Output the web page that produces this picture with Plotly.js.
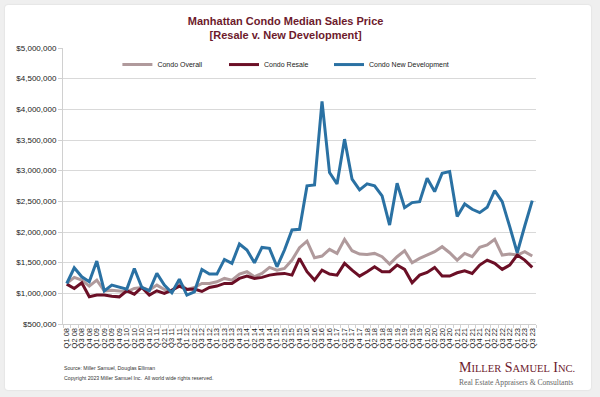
<!DOCTYPE html>
<html>
<head>
<meta charset="utf-8">
<script src="https://cdn.plot.ly/plotly-3.0.1.min.js"></script>
<style>
  html, body { margin: 0; padding: 0; background: #efefef; }
  #card { position: absolute; left: 5px; top: 5px; width: 586px; height: 385px; background: #ffffff; border-radius: 3px; box-shadow: 0 0 2px rgba(0,0,0,0.12); }
  #chart { position: absolute; left: 0; top: 0; width: 600px; height: 397px; }
</style>
</head>
<body>
<div id="card"></div>
<div id="chart"></div>
<script>
const quarters = [
  "Q1 08","Q2 08","Q3 08","Q4 08","Q1 09","Q2 09","Q3 09","Q4 09",
  "Q1 10","Q2 10","Q3 10","Q4 10","Q1 11","Q2 11","Q3 11","Q4 11",
  "Q1 12","Q2 12","Q3 12","Q4 12","Q1 13","Q2 13","Q3 13","Q4 13",
  "Q1 14","Q2 14","Q3 14","Q4 14","Q1 15","Q2 15","Q3 15","Q4 15",
  "Q1 16","Q2 16","Q3 16","Q4 16","Q1 17","Q2 17","Q3 17","Q4 17",
  "Q1 18","Q2 18","Q3 18","Q4 18","Q1 19","Q2 19","Q3 19","Q4 19",
  "Q1 20","Q2 20","Q3 20","Q4 20","Q1 21","Q2 21","Q3 21","Q4 21",
  "Q1 22","Q2 22","Q3 22","Q4 22","Q1 23","Q2 23","Q3 23"
];

const condoOverall = [
  1162000,1260000,1216000,1118000,1216000,1041000,1052000,1041000,
  1025000,1080000,1096000,1052000,1134000,1063000,1025000,1162000,
  1063000,1096000,1162000,1162000,1188000,1243000,1216000,1314000,
  1352000,1270000,1325000,1423000,1379000,1406000,1542000,1745000,
  1850000,1580000,1608000,1717000,1651000,1880000,1695000,1641000,
  1635000,1651000,1597000,1477000,1597000,1695000,1499000,1570000,
  1625000,1679000,1760000,1662000,1542000,1651000,1597000,1749000,
  1788000,1880000,1624000,1641000,1624000,1679000,1608000
];

const condoResale = [
  1150000,1080000,1172000,943000,971000,971000,954000,943000,
  1041000,987000,1096000,971000,1041000,998000,1052000,1118000,
  1063000,1070000,1030000,1096000,1118000,1162000,1162000,1243000,
  1281000,1243000,1260000,1297000,1314000,1325000,1297000,1570000,
  1352000,1216000,1379000,1314000,1297000,1488000,1379000,1281000,
  1352000,1433000,1352000,1352000,1461000,1390000,1172000,1297000,
  1340000,1423000,1281000,1281000,1335000,1368000,1325000,1461000,
  1542000,1488000,1390000,1461000,1624000,1542000,1423000
];

const condoNewDev = [
  1160000,1417000,1270000,1188000,1526000,1041000,1134000,1096000,
  1069000,1406000,1096000,1041000,1325000,1134000,1008000,1232000,
  971000,1025000,1390000,1314000,1314000,1553000,1488000,1804000,
  1706000,1499000,1749000,1733000,1433000,1706000,2033000,2044000,
  2752000,2768000,4129000,2969000,2784000,3514000,2861000,2686000,
  2784000,2752000,2588000,2114000,2795000,2397000,2479000,2495000,
  2877000,2659000,2959000,2986000,2251000,2458000,2371000,2316000,
  2403000,2675000,2495000,2087000,1662000,2098000,2512000
];

const seriesNames = ["Condo Overall", "Condo Resale", "Condo New Development"];

const FONT = "Liberation Sans, Arial, sans-serif";
const SERIF = "Liberation Serif, Times New Roman, serif";

const traces = [
  { x: quarters, y: condoOverall, name: seriesNames[0], type: "scatter", mode: "lines",
    legend: "legend", line: { color: "#b09a9c", width: 3 } },
  { x: quarters, y: condoResale, name: seriesNames[1], type: "scatter", mode: "lines",
    legend: "legend2", line: { color: "#6b0f26", width: 3 } },
  { x: quarters, y: condoNewDev, name: seriesNames[2], type: "scatter", mode: "lines",
    legend: "legend3", line: { color: "#2a71a3", width: 3 } }
];

function legendAt(xpaper) {
  return {
    orientation: "h",
    x: xpaper, xanchor: "left",
    y: 0.94, yanchor: "middle",
    font: { family: FONT, size: 7, color: "#222" },
    itemwidth: 30,
    bgcolor: "rgba(0,0,0,0)"
  };
}

const layout = {
  width: 600, height: 397,
  paper_bgcolor: "rgba(0,0,0,0)",
  plot_bgcolor: "rgba(0,0,0,0)",
  margin: { l: 63, r: 64, t: 48, b: 73 },
  showlegend: true,
  title: {
    text: "Manhattan Condo Median Sales Price<br>[Resale v. New Development]",
    font: { family: FONT, size: 11, color: "#6d1a2c", weight: "bold" },
    xref: "container", x: 0.476, xanchor: "center",
    yref: "container", y: 0.937, yanchor: "top"
  },
  legend: legendAt(0.115),
  legend2: legendAt((264 - 40 - 63) / 473),
  legend3: legendAt((369 - 40 - 63) / 473),
  xaxis: {
    type: "category",
    range: [-0.5, quarters.length - 0.5],
    tickmode: "linear", tick0: 0, dtick: 1,
    tickangle: -90,
    tickfont: { family: FONT, size: 7.5, color: "#222" },
    showgrid: false,
    showline: true, linecolor: "#d0d0d0", linewidth: 1,
    ticks: "outside", ticklen: 3, tickcolor: "#d0d0d0",
    tickson: "boundaries",
    zeroline: false,
    fixedrange: true
  },
  yaxis: {
    range: [500000, 5000000],
    dtick: 500000, tick0: 0,
    tickformat: "$,.0f",
    tickfont: { family: FONT, size: 8, color: "#222" },
    showgrid: true, gridcolor: "#d9d9d9", gridwidth: 1,
    showline: true, linecolor: "#d0d0d0", linewidth: 1,
    ticks: "outside", ticklen: 4, tickcolor: "#d0d0d0",
    zeroline: false,
    fixedrange: true
  },
  annotations: [
    { xref: "paper", yref: "paper", x: -0.002, y: 0,
      yshift: -44, xanchor: "left", yanchor: "middle",
      text: "Source: Miller Samuel, Douglas Elliman", showarrow: false,
      font: { family: FONT, size: 5.2, color: "#333" } },
    { xref: "paper", yref: "paper", x: -0.002, y: 0,
      yshift: -54, xanchor: "left", yanchor: "middle",
      text: "Copyright 2023 Miller Samuel Inc.  All world wide rights reserved.", showarrow: false,
      font: { family: FONT, size: 5.2, color: "#333" } },
    { xref: "paper", yref: "paper", x: (577 - 63) / 473, y: (324 - 367) / 276,
      xanchor: "right", yanchor: "middle",
      text: "M<span style='font-size:10.5px'>ILLER</span> S<span style='font-size:10.5px'>AMUEL</span> I<span style='font-size:10.5px'>NC.</span>",
      showarrow: false,
      font: { family: SERIF, size: 14, color: "#6d1a2c" } },
    { xref: "paper", yref: "paper", x: (575 - 63) / 473, y: (324 - 382) / 276,
      xanchor: "right", yanchor: "middle",
      text: "Real Estate Appraisers &amp; Consultants", showarrow: false,
      font: { family: SERIF, size: 7.6, color: "#666" } }
  ]
};

Plotly.newPlot("chart", traces, layout, { displayModeBar: false, staticPlot: true });
</script>
</body>
</html>
